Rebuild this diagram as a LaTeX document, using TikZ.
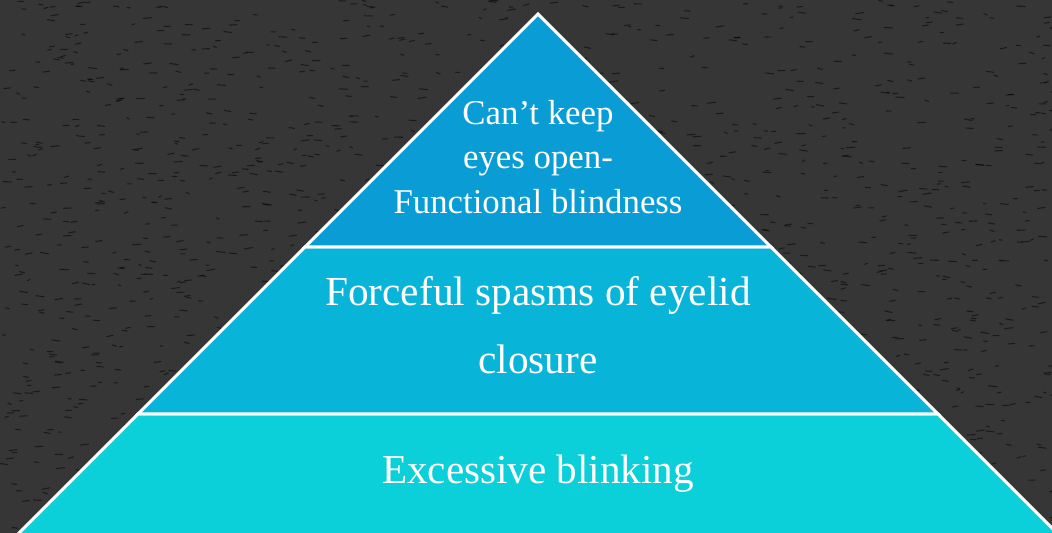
\documentclass[tikz,border=0pt]{standalone}
\usepackage{fontspec}
\setmainfont{Liberation Serif}
\usepackage{xcolor}
\usepackage{tikz}

\definecolor{bgdark}{HTML}{363636}
\definecolor{toplayer}{HTML}{0A9DD5}
\definecolor{midlayer}{HTML}{08B4D8}
\definecolor{baselayer}{HTML}{0BCFD9}

\begin{document}
\begin{tikzpicture}[
    layer/.style={draw=white, line width=1.7pt, line join=miter},
    toptext/.style={text=white, align=center, font=\fontsize{19.8}{25.5}\selectfont},
    midtext/.style={text=white, align=center, font=\fontsize{23.5}{38.5}\selectfont},
    basetext/.style={text=white, align=center, font=\fontsize{23.4}{28}\selectfont},
    speck/.style={line width=0.6pt, draw=black, opacity=0.5, line cap=round},
]

% ══════════════════════════════════════
% background
% ══════════════════════════════════════
\fill[bgdark] (0,0) rectangle (21.04,10.66);
\useasboundingbox (0,0) rectangle (21.04,10.66);
\clip (0,0) rectangle (21.04,10.66);

% ── texture ──
\pgfmathsetseed{7}
\foreach \i in {1,...,1800} {
    \pgfmathsetmacro{\px}{21.04*rnd}
    \pgfmathsetmacro{\py}{10.66*rnd}
    \pgfmathsetmacro{\pl}{0.05+0.12*rnd}
    \draw[speck] (\px,\py) -- ++(\pl,0.03*rand);
}

% ══════════════════════════════════════
% pyramid
% ══════════════════════════════════════
\coordinate (apex) at (10.76,10.38);

\path[layer, fill=baselayer] (2.76,2.38) -- (18.76,2.38) -- (21.64,-0.5) -- (-0.12,-0.5) -- cycle;
\path[layer, fill=midlayer] (6.10,5.72) -- (15.42,5.72) -- (18.76,2.38) -- (2.76,2.38) -- cycle;
\path[layer, fill=toplayer] (apex) -- (15.42,5.72) -- (6.10,5.72) -- cycle;

% ── labels ──
\node[toptext] (eyesopen) at (10.76,7.52) {Can’t keep\\eyes open-\\Functional blindness};
\node[midtext] (spasms) at (10.76,4.16) {Forceful spasms of eyelid\\closure};
\node[basetext] (blinking) at (10.76,1.18) {Excessive blinking};

\end{tikzpicture}
\end{document}
